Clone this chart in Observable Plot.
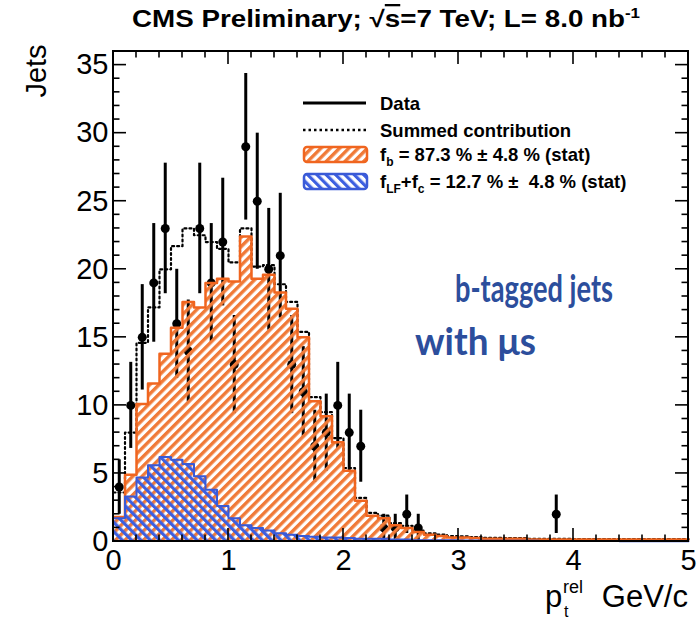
<!DOCTYPE html>
<html><head><meta charset="utf-8">
<script src="https://cdn.jsdelivr.net/npm/d3@7"></script>
<script src="https://cdn.jsdelivr.net/npm/@observablehq/plot@0.6"></script>
<style>body{margin:0;background:#fff}</style>
</head><body><div id="chart"></div>
<script>
// bin edges (GeV/c), 0.1 wide
const binEdges = [0,0.1,0.2,0.3,0.4,0.5,0.6,0.7,0.8,0.9,1.0,1.1,1.2,1.3,1.4,1.5,1.6,1.7,1.8,1.9,2.0,
  2.1,2.2,2.3,2.4,2.5,2.6,2.7,2.8,2.9,3.0,3.1,3.2,3.3,3.4,3.5,3.6,3.7,3.8,3.9,4.0,
  4.1,4.2,4.3,4.4,4.5,4.6,4.7,4.8,4.9,5.0];
// observed jets per bin
const dataCounts = [4,10,15,19,23,16,14,23,19,22,13,29,25,20,21,13,11,7,8,10,
  8,7,0,1,1,2,1,0,0,0,0,0,0,0,0,0,0,0,2,0,0,0,0,0,0,0,0,0,0,0];
// b template (f_b)
const bTemplate = [1.8,4.9,10.1,11.6,13.8,15.7,17.6,17.2,19.0,19.3,19.1,22.4,19.3,19.6,18.3,17.1,15.0,10.3,9.2,7.3,
  5.2,3.0,1.9,1.7,1.2,1.0,0.7,0.5,0.4,0.3,0.3,0.25,0.2,0.2,0.2,0.2,0.15,0.15,0.15,0.15,
  0.15,0.15,0.15,0.15,0.15,0.15,0.15,0.15,0.15,0.15];
// light + c template (f_LF + f_c)
const lcTemplate = [1.7,3.3,4.7,5.6,6.2,6.0,5.7,4.8,3.8,2.6,1.7,1.2,1.0,0.8,0.6,0.5,0.4,0.35,0.3,0.3,
  0.25,0.2,0.2,0.2,0.15,0.15,0.1,0.1,0.1,0.1,0.08,0.08,0.06,0.06,0.05,0.05,0.05,0.04,0.04,0.04,
  0.03,0.03,0.03,0.03,0.02,0.02,0.02,0.02,0.02,0.02];
// summed contribution (dotted)
const summed = [3.6,8.0,14.6,17.2,20.0,21.7,23.0,22.5,22.0,21.5,20.5,23.0,20.2,20.3,18.9,17.6,15.4,10.6,9.5,7.6,
  5.4,3.2,2.1,1.9,1.35,1.15,0.8,0.6,0.5,0.4,0.38,0.33,0.26,0.26,0.25,0.25,0.2,0.19,0.19,0.19,
  0.18,0.18,0.18,0.18,0.17,0.17,0.17,0.17,0.17,0.17];

const xMajor = [0,1,2,3,4,5];
const xMinor = [0.2,0.4,0.6,0.8,1.2,1.4,1.6,1.8,2.2,2.4,2.6,2.8,3.2,3.4,3.6,3.8,4.2,4.4,4.6,4.8];
const yMajor = [0,5,10,15,20,25,30,35];
const yMinor = [1,2,3,4,6,7,8,9,11,12,13,14,16,17,18,19,21,22,23,24,26,27,28,29,31,32,33,34];

const ORANGE = "#f0651f", ORANGE_HATCH = "#f07a38";
const BLUE = "#3a5ad6", BLUE_HATCH = "#3d5fe0";
const TXTBLUE = "#2c4e9c";

const bins = binEdges.slice(0, -1).map((x0, i) => ({
  x0, x1: binEdges[i + 1], c: (x0 + binEdges[i + 1]) / 2,
  n: dataCounts[i], b: bTemplate[i], lc: lcTemplate[i], s: summed[i]
}));
const last = bins[bins.length - 1];
const steps = [...bins.map(d => ({x: d.x0, b: d.b, lc: d.lc, s: d.s})),
  {x: last.x1, b: last.b, lc: last.lc, s: last.s}];
const points = bins.filter(d => d.n > 0).map(d => ({c: d.c, n: d.n, lo: d.n - Math.sqrt(d.n), hi: d.n + Math.sqrt(d.n)}));

function defsMark() {
  const defs = d3.create("svg:defs");
  const pb = defs.append("pattern").attr("id", "hatchB").attr("patternUnits", "userSpaceOnUse")
    .attr("width", 6.6).attr("height", 6.6).attr("patternTransform", "rotate(45)");
  pb.append("rect").attr("x", 0).attr("y", 0).attr("width", 3.4).attr("height", 6.6).attr("fill", ORANGE_HATCH);
  const pl = defs.append("pattern").attr("id", "hatchLC").attr("patternUnits", "userSpaceOnUse")
    .attr("width", 6.6).attr("height", 6.6).attr("patternTransform", "rotate(-45)");
  pl.append("rect").attr("x", 0).attr("y", 0).attr("width", 3.2).attr("height", 6.6).attr("fill", BLUE_HATCH);
  return defs.node();
}

function frameTicks(index, scales, values, dims) {
  const {x, y} = scales;
  const L = dims.marginLeft, R = dims.width - dims.marginRight;
  const T = dims.marginTop, B = dims.height - dims.marginBottom;
  const g = d3.create("svg:g").attr("stroke", "black").attr("fill", "none");
  const ticks = (vals, len) => {
    for (const v of vals) {
      const px = x(v);
      g.append("line").attr("x1", px).attr("x2", px).attr("y1", B).attr("y2", B - len).attr("stroke-width", 1.6);
      g.append("line").attr("x1", px).attr("x2", px).attr("y1", T).attr("y2", T + len).attr("stroke-width", 1.6);
    }
  };
  ticks(xMajor, 13); ticks(xMinor, 6.5);
  const yt = (vals, len) => {
    for (const v of vals) {
      const py = y(v);
      g.append("line").attr("x1", L).attr("x2", L + len).attr("y1", py).attr("y2", py).attr("stroke-width", 1.6);
      g.append("line").attr("x1", R).attr("x2", R - len).attr("y1", py).attr("y2", py).attr("stroke-width", 1.6);
    }
  };
  yt(yMajor, 13); yt(yMinor, 6.5);
  g.append("rect").attr("x", L).attr("y", T).attr("width", R - L).attr("height", B - T).attr("stroke-width", 2);
  return g.node();
}

function annotations() {
  const g = d3.create("svg:g").attr("font-family", "Liberation Sans, Arial, sans-serif").attr("fill", "black")
    .attr("text-anchor", "start");
  // title
  const t = g.append("text").attr("x", 386).attr("y", 27).attr("text-anchor", "middle")
    .attr("font-size", 23).attr("font-weight", "bold")
    .attr("textLength", 508).attr("lengthAdjust", "spacingAndGlyphs");
  t.append("tspan").text("CMS Preliminary; √");
  t.append("tspan").attr("text-decoration", "overline").text("s");
  t.append("tspan").text("=7 TeV; L= 8.0 nb");
  t.append("tspan").attr("dy", -9).attr("font-size", 14).text("-1");
  // y title
  g.append("text").attr("transform", "translate(46,71) rotate(-90)").attr("text-anchor", "middle")
    .attr("font-size", 29).text("Jets");
  // x title
  g.append("text").attr("x", 688).attr("y", 607).attr("text-anchor", "end").attr("font-size", 31).text("GeV/c");
  g.append("text").attr("x", 545).attr("y", 607).attr("font-size", 31).text("p");
  g.append("text").attr("x", 563).attr("y", 593).attr("font-size", 18).text("rel");
  g.append("text").attr("x", 564).attr("y", 617).attr("font-size", 16).text("t");
  // legend
  const lg = g.append("g").attr("font-size", 18.5).attr("font-weight", "bold");
  lg.append("line").attr("x1", 303).attr("x2", 366).attr("y1", 103).attr("y2", 103)
    .attr("stroke", "black").attr("stroke-width", 3);
  lg.append("text").attr("x", 380).attr("y", 109.5).text("Data");
  lg.append("line").attr("x1", 303).attr("x2", 366).attr("y1", 130).attr("y2", 130)
    .attr("stroke", "black").attr("stroke-width", 2.5).attr("stroke-dasharray", "2.5,3");
  lg.append("text").attr("x", 380).attr("y", 136.5).text("Summed contribution");
  lg.append("rect").attr("x", 304).attr("y", 147).attr("width", 63).attr("height", 15).attr("rx", 3)
    .attr("fill", "url(#hatchB)").attr("stroke", ORANGE).attr("stroke-width", 2.5);
  const f1 = lg.append("text").attr("x", 380).attr("y", 161);
  f1.append("tspan").text("f");
  f1.append("tspan").attr("dy", 5).attr("font-size", 12).text("b");
  f1.append("tspan").attr("dy", -5).text(" = 87.3 % ± 4.8 % (stat)");
  lg.append("rect").attr("x", 304).attr("y", 174).attr("width", 63).attr("height", 15).attr("rx", 3)
    .attr("fill", "url(#hatchLC)").attr("stroke", BLUE).attr("stroke-width", 2.5);
  const f2 = lg.append("text").attr("x", 380).attr("y", 188);
  f2.append("tspan").text("f");
  f2.append("tspan").attr("dy", 5).attr("font-size", 12).text("LF");
  f2.append("tspan").attr("dy", -5).text("+f");
  f2.append("tspan").attr("dy", 5).attr("font-size", 12).text("c");
  f2.append("tspan").attr("dy", -5).text(" = 12.7 % ±  4.8 % (stat)");
  // blue annotation
  const bl = g.append("g").attr("font-family", "Lato, 'Open Sans', sans-serif").attr("font-weight", "bold")
    .attr("fill", TXTBLUE).attr("font-size", 38);
  bl.append("text").attr("x", 455).attr("y", 302).attr("textLength", 158).attr("lengthAdjust", "spacingAndGlyphs").text("b-tagged jets");
  bl.append("text").attr("x", 415).attr("y", 355).attr("textLength", 121).attr("lengthAdjust", "spacingAndGlyphs").text("with μs");
  return g.node();
}

const chart = Plot.plot({
  width: 697, height: 622,
  marginLeft: 113, marginRight: 9, marginTop: 51, marginBottom: 81,
  x: {domain: [0, 5], label: null},
  y: {domain: [0, 36], label: null},
  style: {background: "white", fontFamily: "Liberation Sans, Arial, sans-serif", color: "black"},
  marks: [
    defsMark,
    Plot.ruleX(points, {x: "c", y1: "lo", y2: "hi", stroke: "black", strokeWidth: 3}),
    Plot.dot(points, {x: "c", y: "n", r: 4.5, fill: "black", stroke: null}),
    Plot.line(steps, {x: "x", y: "s", curve: "step-after", stroke: "black", strokeWidth: 2.2, strokeDasharray: "2,3"}),
    Plot.areaY(steps, {x: "x", y: "b", curve: "step-after", fill: "url(#hatchB)"}),
    Plot.line(steps, {x: "x", y: "b", curve: "step-after", stroke: ORANGE, strokeWidth: 2.5}),
    Plot.areaY(steps, {x: "x", y: "lc", curve: "step-after", fill: "url(#hatchLC)"}),
    Plot.line(steps, {x: "x", y: "lc", curve: "step-after", stroke: BLUE, strokeWidth: 2}),
    Plot.axisX({ticks: xMajor, tickSize: 0, tickPadding: 8, fontSize: 29, tickFormat: d => String(d), label: null}),
    Plot.axisY({ticks: yMajor, tickSize: 0, tickPadding: 5, fontSize: 29, tickFormat: d => String(d), label: null}),
    frameTicks,
    annotations
  ]
});
document.getElementById("chart").appendChild(chart);
</script>
</body></html>
